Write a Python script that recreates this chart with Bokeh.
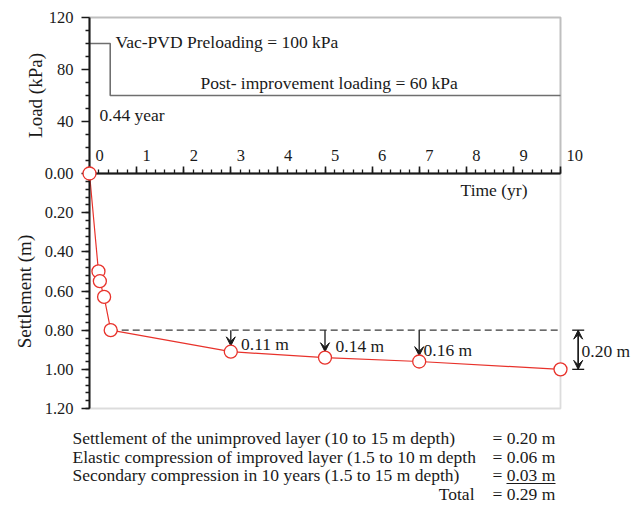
import numpy as np
from bokeh.plotting import figure
from bokeh.models import (Range1d, LinearAxis, FixedTicker, SingleIntervalTicker,
                          PrintfTickFormatter, Label, LabelSet, Arrow, VeeHead, TeeHead, Whisker,
                          BoxAnnotation, ColumnDataSource)
from bokeh.embed import file_html
from bokeh.resources import INLINE

# ---------------- data ----------------
TIME_YR = [0.0, 0.19, 0.22, 0.31, 0.45, 3.0, 5.0, 7.0, 10.0]
SETTLEMENT_M = [0.00, 0.50, 0.55, 0.63, 0.80, 0.91, 0.94, 0.96, 1.00]
LOAD_TIME_YR = [0.0, 0.44, 10.0]
LOAD_KPA = [100, 60, 60]
REF_INDEX = 4                 # end of preloading (0.44 year) settlement
ARROW_INDEX = [5, 6, 7]       # points with marked increments
TIME_TICKS = [0, 1, 2, 3, 4, 5, 6, 7, 8, 9, 10]
TIME_TICK_LABELS = ["0", "1", "2", "3", "4", "5", "6", "7", "8", "9", "10"]
SETTLE_TICKS = [0.0, 0.2, 0.4, 0.6, 0.8, 1.0, 1.2]
LOAD_TICKS = [40, 80, 120]
LOAD_MINOR = [10, 20, 30, 50, 60, 70, 90, 100, 110]
COMPONENT_LABELS = ["Settlement of the unimproved layer (10 to 15 m depth)",
                    "Elastic compression of improved layer (1.5 to 10 m depth",
                    "Secondary compression in 10 years (1.5 to 15 m depth)"]
COMPONENT_VALUES = [0.20, 0.06, 0.03]

# ---------------- layout geometry (pixels) ----------------
W, H = 642, 505
PX_T0, PX_T10 = 89.0, 560.0      # time 0 and 10
PY_S0, PY_S12 = 173.0, 408.0     # settlement 0 and 1.2
PY_L120 = 17.0                   # load 120
XS = (PX_T10 - PX_T0) / 10.0
YS = (PY_S12 - PY_S0) / 1.2
LS = (PY_S0 - PY_L120) / 120.0

def dx(px):
    return (px - PX_T0) / XS

def dy(py):
    return (py - PY_S0) / YS

def dl(py):
    return (PY_S0 - py) / LS

FONT = "Liberation Serif"
TXT = "17.5px"
RED = "#e8322b"
INK = "#1a1a1a"

p = figure(width=W, height=H, x_range=Range1d(dx(0), dx(W)), y_range=Range1d(dy(H), dy(0)),
           x_axis_location=None, y_axis_location=None, toolbar_location=None,
           output_backend="svg", min_border=0, outline_line_color=None,
           background_fill_color="white", border_fill_color="white")
p.extra_y_ranges = {"load": Range1d(dl(H), dl(0))}
p.grid.grid_line_color = None

# panel borders
p.add_layout(BoxAnnotation(left=0, right=10, top=0, bottom=1.2, fill_color=None,
                           line_color="#8c8c8c", line_width=1.8, level="underlay"))
p.add_layout(BoxAnnotation(left=0, right=10, bottom=0, top=120, y_range_name="load",
                           fill_color=None, line_color="#2b2b2b", line_width=2, level="underlay"))

def style_axis(ax):
    ax.axis_line_color = INK
    ax.axis_line_width = 2
    ax.major_tick_line_color = INK
    ax.minor_tick_line_color = INK
    ax.major_tick_line_width = 1.6
    ax.minor_tick_line_width = 1.3
    ax.major_tick_in = 0
    ax.minor_tick_in = 0
    ax.major_label_text_font = FONT
    ax.major_label_text_font_size = "16.5px"
    ax.major_label_text_color = INK

# settlement axis
ax_s = LinearAxis(fixed_location=0, bounds=(dy(PY_L120), 1.2),
                  ticker=FixedTicker(ticks=SETTLE_TICKS,
                                     minor_ticks=[round(v, 2) for v in np.arange(0, 1.2001, 0.04)]),
                  formatter=PrintfTickFormatter(format="%.2f"))
style_axis(ax_s)
ax_s.major_tick_out = 8
ax_s.minor_tick_out = 4
ax_s.major_label_standoff = 8
p.add_layout(ax_s, "left")

# load axis
ax_l = LinearAxis(y_range_name="load", fixed_location=0, bounds=(0, 120),
                  ticker=FixedTicker(ticks=LOAD_TICKS, minor_ticks=LOAD_MINOR))
style_axis(ax_l)
ax_l.axis_line_color = None
ax_l.major_tick_out = 8
ax_l.minor_tick_out = 4
ax_l.major_label_standoff = 8
p.add_layout(ax_l, "left")

# time axis between the panels (tick labels set off to the right of each tick)
ax_t = LinearAxis(fixed_location=0, bounds=(0, 10),
                  ticker=SingleIntervalTicker(interval=1, num_minor_ticks=5))
style_axis(ax_t)
ax_t.major_tick_out = 7
ax_t.minor_tick_out = 4
ax_t.major_label_text_color = None
p.add_layout(ax_t, "above")
tick_src = ColumnDataSource(dict(x=TIME_TICKS, y=[dy(155)] * len(TIME_TICKS), text=TIME_TICK_LABELS))
p.add_layout(LabelSet(x="x", y="y", text="text", source=tick_src, x_offset=6,
                      text_font=FONT, text_font_size="16.5px", text_color=INK,
                      text_align="left", text_baseline="middle"))

# load history
p.step(LOAD_TIME_YR, LOAD_KPA, mode="after", y_range_name="load",
       line_color="#6f6f6f", line_width=1.6)

# settlement curve
ref_t = TIME_YR[REF_INDEX]
ref_s = SETTLEMENT_M[REF_INDEX]
p.line([ref_t, TIME_YR[-1]], [ref_s, ref_s], line_color="#3a3a3a", line_width=1.2, line_dash="7 4")
p.line(TIME_YR, SETTLEMENT_M, line_color=RED, line_width=1.2)
p.scatter(TIME_YR, SETTLEMENT_M, size=13, marker="circle", fill_color="white",
          line_color=RED, line_width=1.3, level="overlay")

# increment arrows
GAP = 0.03
arr_src = ColumnDataSource(dict(x=[TIME_YR[i] for i in ARROW_INDEX],
                                y0=[ref_s] * len(ARROW_INDEX),
                                y1=[SETTLEMENT_M[i] - GAP for i in ARROW_INDEX]))
p.add_layout(Arrow(end=VeeHead(size=9, fill_color=INK, line_color=INK, line_width=1),
                   x_start="x", y_start="y0", x_end="x", y_end="y1", source=arr_src,
                   line_color=INK, line_width=1.3))

INC_LABEL_PX = [(240.5, 343.3), (335.0, 345.7), (423.0, 349.0)]
for i, (px, py) in zip(ARROW_INDEX, INC_LABEL_PX):
    p.add_layout(Label(x=dx(px), y=dy(py), text=f"{SETTLEMENT_M[i] - ref_s:.2f} m",
                       text_font=FONT, text_font_size=TXT, text_color=INK,
                       text_baseline="middle", text_align="left"))

# dimension of total increment
DIM_X = dx(577.7)
dim_src = ColumnDataSource(dict(base=[DIM_X], lower=[ref_s], upper=[SETTLEMENT_M[-1]]))
p.add_layout(Whisker(base="base", lower="lower", upper="upper", dimension="height",
                     source=dim_src, line_color=INK, line_width=1.3,
                     lower_head=TeeHead(size=12, line_color=INK, line_width=1.3),
                     upper_head=TeeHead(size=12, line_color=INK, line_width=1.3)))
p.add_layout(Arrow(start=VeeHead(size=9, fill_color=INK, line_color=INK, line_width=1),
                   end=VeeHead(size=9, fill_color=INK, line_color=INK, line_width=1),
                   x_start=DIM_X, y_start=ref_s, x_end=DIM_X, y_end=SETTLEMENT_M[-1],
                   line_color=INK, line_width=1.3))
p.add_layout(Label(x=dx(581), y=dy(350), text=f"{SETTLEMENT_M[-1] - ref_s:.2f} m",
                   text_font=FONT, text_font_size=TXT, text_color=INK,
                   text_baseline="middle", text_align="left"))

# text annotations
def tlabel(text, px, py, yr="default", align="left", size=TXT, angle=0.0, yconv=None):
    y = yconv(py) if yconv else dy(py)
    p.add_layout(Label(x=dx(px), y=y, text=text, y_range_name=yr, angle=angle,
                       text_font=FONT, text_font_size=size, text_color=INK,
                       text_baseline="middle", text_align=align))

tlabel(f"Vac-PVD Preloading = {LOAD_KPA[0]} kPa", 115, 41, yr="load", yconv=dl)
tlabel(f"Post- improvement loading = {LOAD_KPA[1]} kPa", 200, 82, yr="load", yconv=dl)
tlabel(f"{LOAD_TIME_YR[1]} year", 99, 114, yr="load", yconv=dl)
tlabel("Time (yr)", 527, 189, align="right")
tlabel("Load (kPa)", 35, 95, yr="load", yconv=dl, align="center", size="19px", angle=np.pi / 2)
tlabel("Settlement (m)", 24, 291, align="center", size="19px", angle=np.pi / 2)

# settlement components
ROW_PY = [437.5, 456.0, 474.5, 493.0]
for lbl, val, py in zip(COMPONENT_LABELS, COMPONENT_VALUES, ROW_PY):
    tlabel(lbl, 72, py)
    tlabel(f"= {val:.2f} m", 492, py)
tlabel("Total", 474, ROW_PY[3], align="right")
tlabel(f"= {sum(COMPONENT_VALUES):.2f} m", 492, ROW_PY[3])
p.segment(x0=[dx(506)], y0=[dy(483)], x1=[dx(555)], y1=[dy(483)], line_color=INK, line_width=1)

open("out.html", "w").write(file_html(p, INLINE))
